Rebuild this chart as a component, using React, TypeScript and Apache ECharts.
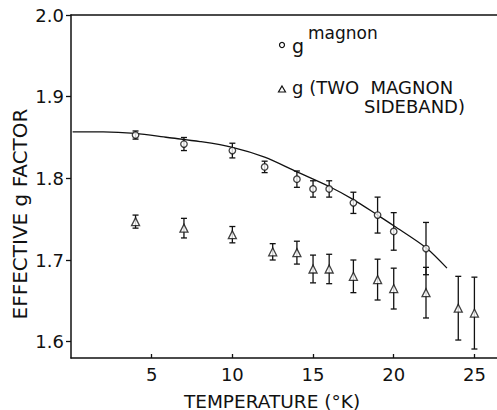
import React, { useEffect, useRef } from "react";
import * as echarts from "echarts";

const magnonT = [4, 7, 10, 12, 14, 15, 16, 17.5, 19, 20, 22];
const magnonG = [1.853, 1.842, 1.834, 1.814, 1.799, 1.787, 1.787, 1.770, 1.755, 1.735, 1.714];
const magnonErr = [0.005, 0.008, 0.009, 0.007, 0.01, 0.01, 0.01, 0.013, 0.022, 0.023, 0.032];

const twoT = [4, 7, 10, 12.5, 14, 15, 16, 17.5, 19, 20, 22, 24, 25];
const twoG = [1.747, 1.739, 1.731, 1.710, 1.709, 1.689, 1.689, 1.680, 1.676, 1.665, 1.660, 1.641, 1.635];
const twoErr = [0.008, 0.012, 0.01, 0.01, 0.014, 0.017, 0.018, 0.02, 0.025, 0.025, 0.031, 0.039, 0.044];

const curveT = [0.1, 2, 4, 6, 8, 10, 12, 14, 16, 17.5, 19, 20, 22, 23.3];
const curveG = [1.857, 1.857, 1.855, 1.850, 1.845, 1.838, 1.826, 1.808, 1.790, 1.774, 1.755, 1.742, 1.715, 1.690];

const xTicks = [5, 10, 15, 20, 25];
const yTicks = [1.6, 1.7, 1.8, 1.9, 2.0];
const yTickLabels = ["1.6", "1.7", "1.8", "1.9", "2.0"];

const xTitle = "TEMPERATURE (°K)";
const yTitle = "EFFECTIVE g FACTOR";
const legend1Main = "g";
const legend1Sup = "magnon";
const legend2Line1 = "g (TWO  MAGNON";
const legend2Line2 = "SIDEBAND)";

const FONT = "DejaVu Sans";
const INK = "#111";

function errRender(params: any, api: any) {
  const x = api.value(0);
  const lo = api.coord([x, api.value(1)]);
  const hi = api.coord([x, api.value(2)]);
  const w = 3;
  const st = { stroke: INK, lineWidth: 1.3 };
  return {
    type: "group",
    children: [
      { type: "line", shape: { x1: lo[0], y1: lo[1], x2: hi[0], y2: hi[1] }, style: st },
      { type: "line", shape: { x1: lo[0] - w, y1: lo[1], x2: lo[0] + w, y2: lo[1] }, style: st },
      { type: "line", shape: { x1: hi[0] - w, y1: hi[1], x2: hi[0] + w, y2: hi[1] }, style: st },
    ],
  };
}

export default function App() {
  const ref = useRef<HTMLDivElement>(null);
  useEffect(() => {
    if (!ref.current) return;
    const chart = echarts.init(ref.current, null, { renderer: "svg" });
    const labelMap: Record<string, string> = {};
    yTicks.forEach((v, i) => (labelMap[v.toFixed(2)] = yTickLabels[i]));
    chart.setOption({
      animation: false,
      backgroundColor: "#fff",
      grid: { left: 71, right: 0, top: 15, bottom: 52 },
      xAxis: [
        {
          type: "value",
          min: 0,
          max: 26.4,
          splitLine: { show: false },
          axisLine: { lineStyle: { color: INK, width: 1.5 } },
          axisTick: { inside: true, length: 4, customValues: xTicks, lineStyle: { color: INK, width: 1.3 } },
          axisLabel: { customValues: xTicks, color: INK, fontFamily: FONT, fontSize: 18, margin: 7 },
        },
        {
          type: "value",
          position: "top",
          min: 0,
          max: 26.4,
          splitLine: { show: false },
          axisLine: { show: true, lineStyle: { color: INK, width: 1.5 } },
          axisTick: { show: false },
          axisLabel: { show: false },
        },
      ],
      yAxis: {
        type: "value",
        min: 1.58,
        max: 2.0,
        splitLine: { show: false },
        axisLine: { lineStyle: { color: INK, width: 1.5 } },
        axisTick: { length: 5, customValues: yTicks, lineStyle: { color: INK, width: 1.3 } },
        axisLabel: {
          customValues: yTicks,
          color: INK,
          fontFamily: FONT,
          fontSize: 18,
          margin: 7,
          formatter: (v: number) => labelMap[v.toFixed(2)] ?? v.toFixed(1),
        },
      },
      series: [
        {
          type: "line",
          data: curveT.map((t, i) => [t, curveG[i]]),
          smooth: 0.3,
          symbol: "none",
          lineStyle: { color: INK, width: 1.3 },
          z: 2,
        },
        {
          type: "custom",
          renderItem: errRender,
          data: magnonT.map((t, i) => [t, magnonG[i] - magnonErr[i], magnonG[i] + magnonErr[i]]),
          encode: { x: 0, y: [1, 2] },
          z: 3,
        },
        {
          type: "custom",
          renderItem: errRender,
          data: twoT.map((t, i) => [t, twoG[i] - twoErr[i], twoG[i] + twoErr[i]]),
          encode: { x: 0, y: [1, 2] },
          z: 3,
        },
        {
          type: "scatter",
          data: magnonT.map((t, i) => [t, magnonG[i]]),
          symbol: "circle",
          symbolSize: 6.5,
          itemStyle: { color: "#fff", borderColor: INK, borderWidth: 1.3 },
          z: 4,
        },
        {
          type: "scatter",
          data: twoT.map((t, i) => [t, twoG[i]]),
          symbol: "triangle",
          symbolSize: 8,
          itemStyle: { color: "#fff", borderColor: INK, borderWidth: 1.3 },
          z: 4,
        },
      ],
      graphic: [
        {
          type: "text",
          x: 272,
          y: 401,
          style: { text: xTitle, fill: INK, font: `18.5px ${FONT}`, textAlign: "center", textVerticalAlign: "middle" },
        },
        {
          type: "text",
          x: 20,
          y: 214,
          rotation: Math.PI / 2,
          style: { text: yTitle, fill: INK, font: `20px ${FONT}`, textAlign: "center", textVerticalAlign: "middle" },
        },
        { type: "circle", shape: { cx: 282, cy: 45, r: 2.5 }, style: { fill: "#fff", stroke: INK, lineWidth: 1.2 } },
        {
          type: "text",
          x: 292,
          y: 46,
          style: { text: legend1Main, fill: INK, font: `19px ${FONT}`, textAlign: "left", textVerticalAlign: "middle" },
        },
        {
          type: "text",
          x: 308,
          y: 33,
          style: { text: legend1Sup, fill: INK, font: `17px ${FONT}`, textAlign: "left", textVerticalAlign: "middle" },
        },
        { type: "polygon", shape: { points: [[282, 86], [285.5, 92], [278.5, 92]] }, style: { fill: "#fff", stroke: INK, lineWidth: 1.2 } },
        {
          type: "text",
          x: 292,
          y: 87,
          style: { text: legend2Line1, fill: INK, font: `18px ${FONT}`, textAlign: "left", textVerticalAlign: "middle" },
        },
        {
          type: "text",
          x: 465,
          y: 106,
          style: { text: legend2Line2, fill: INK, font: `18px ${FONT}`, textAlign: "right", textVerticalAlign: "middle" },
        },
      ],
    });
    return () => chart.dispose();
  }, []);
  return <div ref={ref} style={{ position: "fixed", left: 0, top: 0, width: 497, height: 410 }} />;
}
